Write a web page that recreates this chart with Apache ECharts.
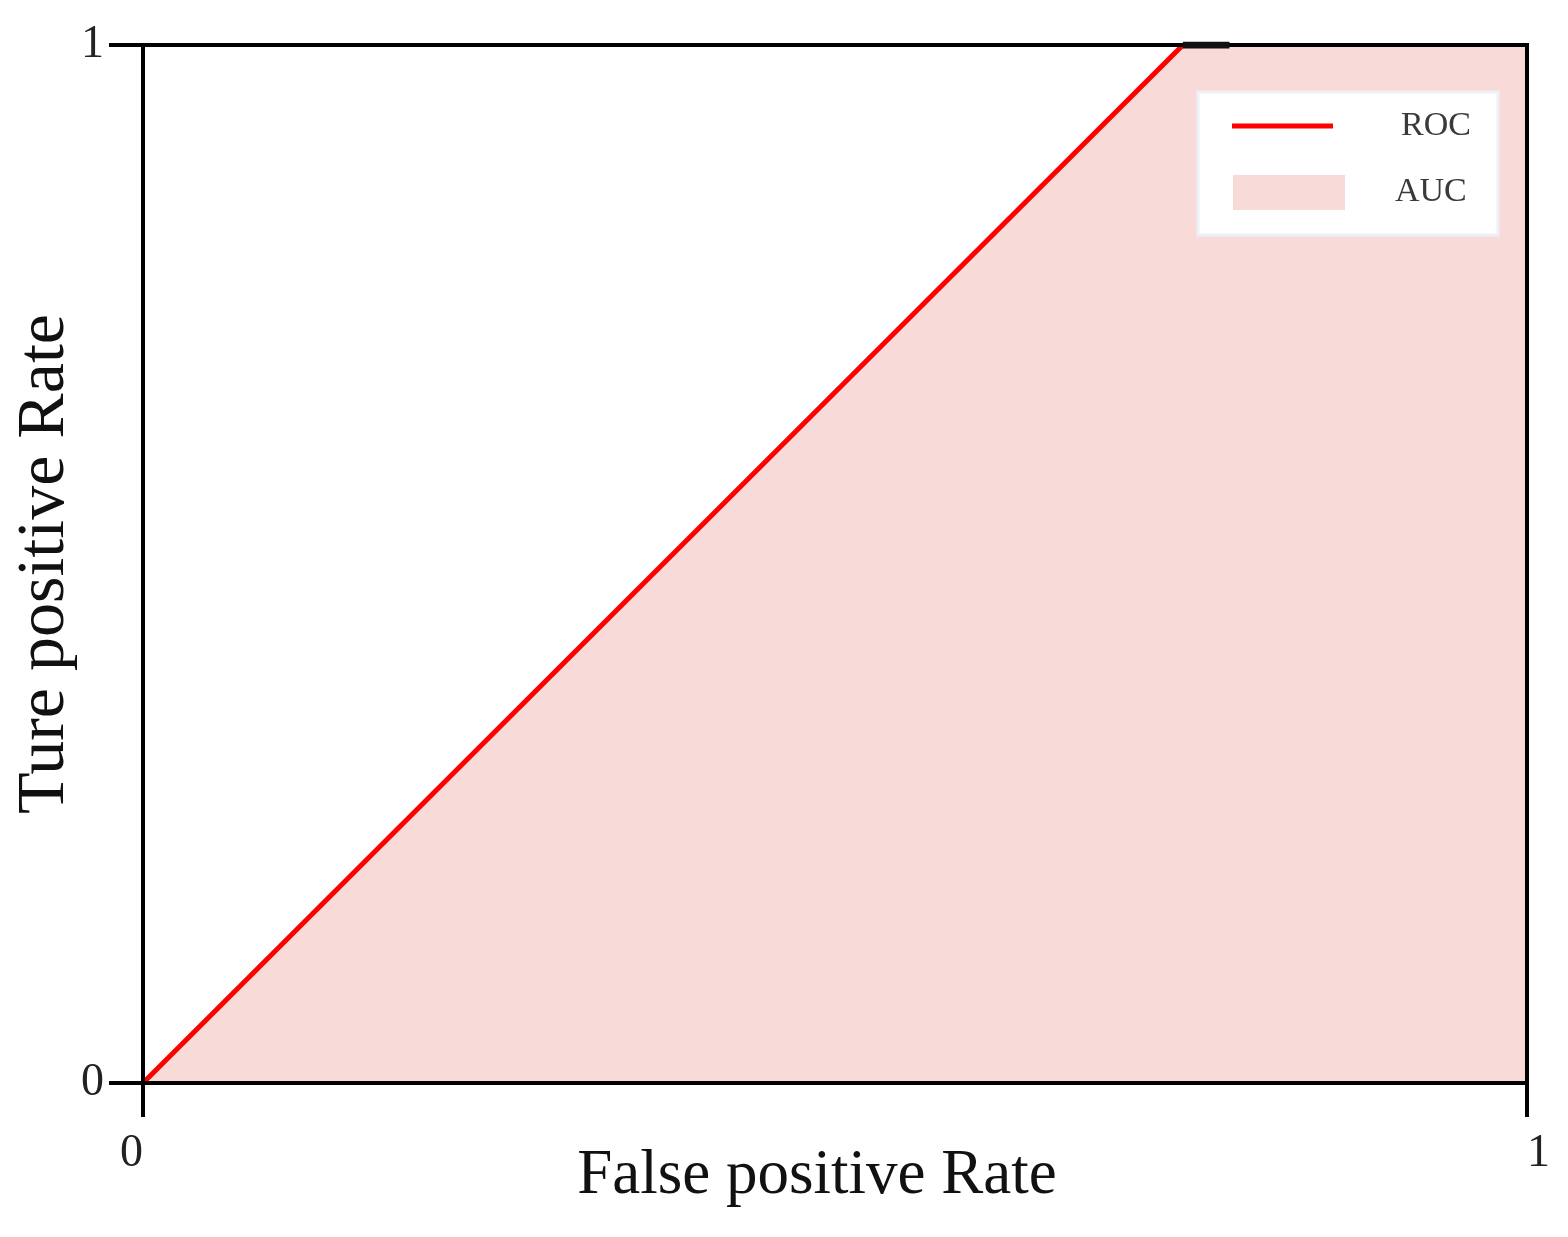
<!DOCTYPE html>
<html>
<head>
<meta charset="utf-8">
<script src="https://cdn.jsdelivr.net/npm/echarts@6/dist/echarts.min.js"></script>
<style>
  html, body { margin: 0; padding: 0; background: #fff; }
  #chart { width: 1568px; height: 1237px; }
</style>
</head>
<body>
<div id="chart"></div>
<script>
// ROC 曲线数据
const rocFpr = [0, 0.7514]
const rocTpr = [0, 1]
const aucFpr = [0, 0.7514, 1]
const aucTpr = [0, 1, 1]
// 顶边上那段加粗的黑线
const edgeFpr = [0.7514, 0.785]
const edgeTpr = [1, 1]
const xTicks = [0, 1]
const yTicks = [0, 1]

const SERIF = '"Liberation Serif", "Times New Roman", serif'
const RED = '#ff0000'
const PINK = '#f8dbd9'

const zip = (xs, ys) => xs.map((x, i) => [x, ys[i]])

const chart = echarts.init(document.getElementById('chart'), null, { renderer: 'canvas' })

chart.setOption({
    animation: false,
    backgroundColor: '#fff',
    grid: {
        left: 143, right: 41, top: 45, bottom: 154,
        outerBoundsMode: 'none', containLabel: false,
        show: true, borderColor: '#000', borderWidth: 4,
        backgroundColor: 'transparent', z: 5
    },
    graphic: [{
        type: 'rect', z: 4,
        shape: { x: 1198, y: 92, width: 300, height: 143 },
        style: { fill: '#fff', stroke: '#eef0f8', lineWidth: 3 }
    }],
    legend: [{
        data: [{ name: 'ROC', icon: 'rect', itemStyle: { color: RED, borderWidth: 0 } }],
        left: 1232, top: 109, padding: 0, z: 6,
        itemWidth: 101, itemHeight: 5,
        selectedMode: false,
        textStyle: { fontFamily: SERIF, fontSize: 34, color: '#3a3a3a', padding: [0, 0, 0, 63] }
    }, {
        data: [{ name: 'AUC', icon: 'rect', itemStyle: { color: PINK, borderWidth: 0 } }],
        left: 1233, top: 175, padding: 0, z: 6,
        itemWidth: 112, itemHeight: 35,
        selectedMode: false,
        textStyle: { fontFamily: SERIF, fontSize: 34, color: '#3a3a3a', padding: [0, 0, 0, 45] }
    }],
    xAxis: {
        type: 'value', min: xTicks[0], max: xTicks[xTicks.length - 1], interval: 1,
        z: 5,
        name: 'False positive Rate', nameLocation: 'middle', nameGap: 62,
        nameMoveOverlap: false,
        nameTextStyle: { fontFamily: SERIF, fontSize: 63, color: '#111', padding: [0, 36, 0, 0] },
        axisLine: { lineStyle: { color: '#000', width: 4 } },
        axisTick: { show: true, length: 34, lineStyle: { color: '#000', width: 4 } },
        axisLabel: {
            margin: 48, fontFamily: SERIF, fontSize: 46, color: '#222',
            alignMinLabel: 'right', alignMaxLabel: 'left', padding: [0, 0, 0, 0]
        },
        splitLine: { show: false }
    },
    yAxis: {
        type: 'value', min: yTicks[0], max: yTicks[yTicks.length - 1], interval: 1,
        z: 5,
        name: 'Ture positive Rate', nameLocation: 'middle', nameGap: 64,
        nameMoveOverlap: false,
        nameTextStyle: { fontFamily: SERIF, fontSize: 68, color: '#111' },
        axisLine: { lineStyle: { color: '#000', width: 4 } },
        axisTick: { show: true, length: 34, lineStyle: { color: '#000', width: 4 } },
        axisLabel: { margin: 39, fontFamily: SERIF, fontSize: 46, color: '#222' },
        splitLine: { show: false }
    },
    series: [{
        name: 'AUC', type: 'line', data: zip(aucFpr, aucTpr),
        symbol: 'none', lineStyle: { width: 0 },
        itemStyle: { color: PINK },
        areaStyle: { color: PINK, opacity: 1 }, z: 2
    }, {
        name: 'ROC', type: 'line', data: zip(rocFpr, rocTpr),
        symbol: 'none', itemStyle: { color: RED },
        lineStyle: { color: RED, width: 5 }, z: 3
    }, {
        name: 'edge', type: 'line', data: zip(edgeFpr, edgeTpr),
        symbol: 'none', lineStyle: { color: '#111', width: 7 }, z: 6,
        silent: true
    }]
})
</script>
</body>
</html>
